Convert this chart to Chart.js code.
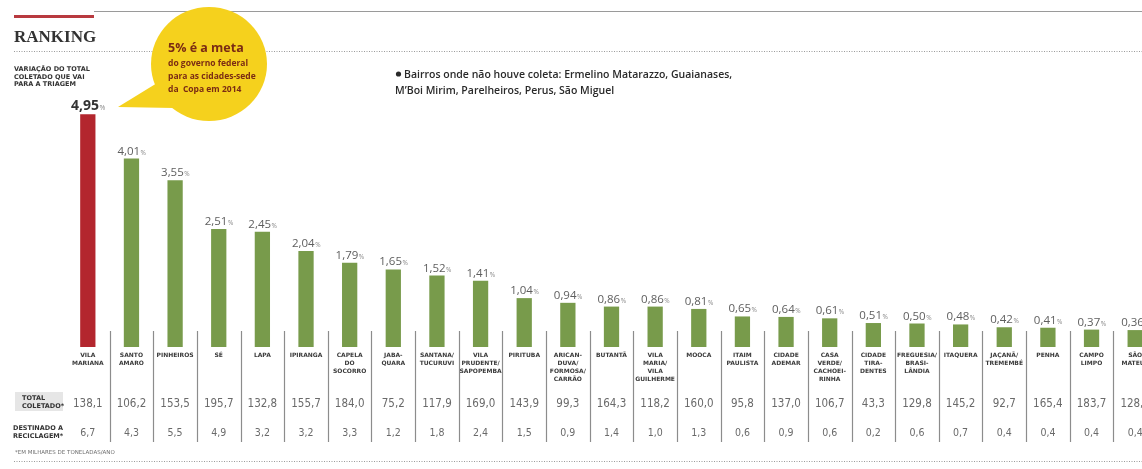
<!DOCTYPE html>
<html lang="pt-BR">
<head>
<meta charset="utf-8">
<title>Ranking - reciclagem</title>
<script src="https://cdn.jsdelivr.net/npm/chart.js@4/dist/chart.umd.min.js"></script>
<style>
  html, body { margin: 0; padding: 0; background: #fff; overflow: hidden; }
  #wrap { position: absolute; left: 0; top: 0; width: 1157px; height: 469px; }
</style>
</head>
<body>
<div id="wrap"><canvas id="chart"></canvas></div>
<script>
// Ranking of São Paulo districts: share of collected waste sent to sorting.

const districts = [
  ['VILA', 'MARIANA'], ['SANTO', 'AMARO'], ['PINHEIROS'], ['SÉ'], ['LAPA'], ['IPIRANGA'],
  ['CAPELA', 'DO', 'SOCORRO'], ['JABA-', 'QUARA'], ['SANTANA/', 'TUCURUVI'],
  ['VILA', 'PRUDENTE/', 'SAPOPEMBA'], ['PIRITUBA'], ['ARICAN-', 'DUVA/', 'FORMOSA/', 'CARRÃO'],
  ['BUTANTÃ'], ['VILA', 'MARIA/', 'VILA', 'GUILHERME'], ['MOOCA'], ['ITAIM', 'PAULISTA'],
  ['CIDADE', 'ADEMAR'], ['CASA', 'VERDE/', 'CACHOEI-', 'RINHA'], ['CIDADE', 'TIRA-', 'DENTES'],
  ['FREGUESIA/', 'BRASI-', 'LÂNDIA'], ['ITAQUERA'], ['JAÇANÃ/', 'TREMEMBÉ'], ['PENHA'],
  ['CAMPO', 'LIMPO'], ['SÃO', 'MATEUS'],
];

const triagemPct = [
  4.95, 4.01, 3.55, 2.51, 2.45, 2.04, 1.79, 1.65, 1.52, 1.41, 1.04, 0.94, 0.86,
  0.86, 0.81, 0.65, 0.64, 0.61, 0.51, 0.50, 0.48, 0.42, 0.41, 0.37, 0.36,
];

// thousands of tonnes / year
const totalColetado = [
  138.1, 106.2, 153.5, 195.7, 132.8, 155.7, 184.0, 75.2, 117.9, 169.0, 143.9, 99.3, 164.3,
  118.2, 160.0, 95.8, 137.0, 106.7, 43.3, 129.8, 145.2, 92.7, 165.4, 183.7, 128.6,
];

const destinadoReciclagem = [
  6.7, 4.3, 5.5, 4.9, 3.2, 3.2, 3.3, 1.2, 1.8, 2.4, 1.5, 0.9, 1.4,
  1.0, 1.3, 0.6, 0.9, 0.6, 0.2, 0.6, 0.7, 0.4, 0.4, 0.4, 0.4,
];

const yTicks = [0, 5];

const RED = '#b3262e';
const GREEN = '#789b4b';
const TEXT_DARK = '#333333';
const TEXT_GRAY = '#6e6e6e';
const BUBBLE = '#f5d11d';
const BUBBLE_TEXT = '#7a2b14';

function ptBr(v, digits) {
  return v.toFixed(digits).replace('.', ',');
}

function dotted(ctx, x1, x2, y) {
  ctx.save();
  ctx.strokeStyle = '#9a9a9a';
  ctx.lineWidth = 1;
  ctx.setLineDash([1, 1.5]);
  ctx.beginPath();
  ctx.moveTo(x1, y + 0.5);
  ctx.lineTo(x2, y + 0.5);
  ctx.stroke();
  ctx.restore();
}

// header, bubble, notes, footer
const decorPlugin = {
  id: 'decor',
  beforeDraw(chart) {
    const ctx = chart.ctx;
    ctx.save();
    ctx.fillStyle = '#fff';
    ctx.fillRect(0, 0, chart.width, chart.height);

    ctx.fillStyle = '#9a9a9a';
    ctx.fillRect(94, 11, 1142 - 94, 1);
    ctx.fillStyle = '#b83a3f';
    ctx.fillRect(14, 15, 80, 3);

    ctx.fillStyle = TEXT_DARK;
    ctx.font = 'bold 17px "Liberation Serif", "DejaVu Serif", serif';
    ctx.textBaseline = 'alphabetic';
    ctx.fillText('RANKING', 14, 42);

    dotted(ctx, 14, 1142, 51);
    dotted(ctx, 14, 1142, 461);

    ctx.font = 'bold 6.5px "DejaVu Sans", sans-serif';
    ['VARIAÇÃO DO TOTAL', 'COLETADO QUE VAI', 'PARA A TRIAGEM'].forEach((t, i) => {
      ctx.fillText(t, 14, 71 + i * 7.5);
    });

    ctx.font = '600 10.5px "Open Sans", sans-serif';
    ctx.fillStyle = '#2a2a2a';
    ctx.beginPath();
    ctx.arc(398.5, 74, 2.6, 0, Math.PI * 2);
    ctx.fill();
    ctx.fillText('Bairros onde não houve coleta: Ermelino Matarazzo, Guaianases,', 404, 78);
    ctx.fillText('M’Boi Mirim, Parelheiros, Perus, São Miguel', 395, 94);

    // left row labels of the table
    ctx.fillStyle = '#e6e6e6';
    ctx.fillRect(15, 392, 48, 19);
    ctx.fillStyle = TEXT_DARK;
    ctx.font = 'bold 6.5px "DejaVu Sans", sans-serif';
    ctx.fillText('TOTAL', 22, 400);
    ctx.fillText('COLETADO*', 22, 408);
    ctx.fillText('DESTINADO A', 13, 430);
    ctx.fillText('RECICLAGEM*', 13, 438);

    ctx.fillStyle = TEXT_GRAY;
    ctx.font = '5.5px "DejaVu Sans", sans-serif';
    ctx.fillText('*EM MILHARES DE TONELADAS/ANO', 15, 454);
    ctx.restore();
  },
  afterDraw(chart) {
    const ctx = chart.ctx;
    ctx.save();
    // speech bubble pointing to the first bar's label
    ctx.fillStyle = BUBBLE;
    ctx.beginPath();
    ctx.ellipse(209, 64, 58, 57, 0, 0, Math.PI * 2);
    ctx.fill();
    ctx.beginPath();
    ctx.moveTo(118, 107);
    ctx.lineTo(162, 80);
    ctx.lineTo(174, 108);
    ctx.closePath();
    ctx.fill();

    ctx.fillStyle = BUBBLE_TEXT;
    ctx.font = 'bold 12.5px "Open Sans", sans-serif';
    ctx.fillText('5% é a meta', 168, 52);
    ctx.font = 'bold 8.5px "Open Sans", sans-serif';
    ctx.fillText('do governo federal', 168, 66);
    ctx.fillText('para as cidades-sede', 168, 79);
    ctx.fillText('da  Copa em 2014', 168, 92);
    ctx.restore();
  },
};

// value labels, separators and the two data rows under the bars
const tablePlugin = {
  id: 'table',
  afterDatasetsDraw(chart) {
    const ctx = chart.ctx;
    const xs = chart.scales.x;
    const meta = chart.getDatasetMeta(0);
    const step = xs.getPixelForValue(1) - xs.getPixelForValue(0);
    ctx.save();

    ctx.strokeStyle = '#8c8c8c';
    ctx.lineWidth = 1.2;
    for (let i = 1; i < districts.length; i++) {
      const x = Math.round(xs.getPixelForValue(i) - step / 2) + 0.5;
      ctx.beginPath();
      ctx.moveTo(x, 331);
      ctx.lineTo(x, 442);
      ctx.stroke();
    }

    ctx.textBaseline = 'alphabetic';
    meta.data.forEach((bar, i) => {
      const num = ptBr(triagemPct[i], 2);
      const first = i === 0;
      const numFont = first ? 'bold 14px "Open Sans", sans-serif' : '11.5px "Open Sans", sans-serif';
      const pctFont = first ? '7px "Open Sans", sans-serif' : '6.5px "Open Sans", sans-serif';
      ctx.font = numFont;
      const wNum = ctx.measureText(num).width;
      ctx.font = pctFont;
      const wPct = ctx.measureText('%').width;
      const x0 = bar.x - (wNum + wPct) / 2;
      const y = bar.y - 4;
      ctx.fillStyle = first ? TEXT_DARK : '#5e5e5e';
      ctx.font = numFont;
      ctx.textAlign = 'left';
      ctx.fillText(num, x0, y);
      ctx.font = pctFont;
      ctx.fillStyle = '#888';
      ctx.fillText('%', x0 + wNum + 0.5, y);

      ctx.textAlign = 'center';
      ctx.fillStyle = '#6a6a6a';
      ctx.font = '11.5px "Liberation Sans Narrow", "DejaVu Sans Condensed", sans-serif';
      ctx.fillText(ptBr(totalColetado[i], 1), bar.x, 407);
      ctx.font = '10.5px "Liberation Sans Narrow", "DejaVu Sans Condensed", sans-serif';
      ctx.fillText(ptBr(destinadoReciclagem[i], 1), bar.x, 436);
    });
    ctx.restore();
  },
};

new Chart(document.getElementById('chart'), {
  type: 'bar',
  data: {
    labels: districts,
    datasets: [{
      data: triagemPct,
      backgroundColor: triagemPct.map((_, i) => (i === 0 ? RED : GREEN)),
      borderWidth: 0,
      categoryPercentage: 1,
      barPercentage: 0.35,
    }],
  },
  options: {
    responsive: true,
    maintainAspectRatio: false,
    animation: false,
    events: [],
    layout: { padding: { top: 112, left: 66, right: 0, bottom: 0 } },
    plugins: { legend: { display: false }, tooltip: { enabled: false } },
    scales: {
      x: {
        afterFit: (scale) => { scale.height = 122; },
        grid: { display: false, drawTicks: false },
        border: { display: false },
        ticks: {
          autoSkip: false,
          maxRotation: 0,
          minRotation: 0,
          padding: 5,
          color: '#3a3a3a',
          font: { family: '"DejaVu Sans", sans-serif', size: 6, weight: 'bold', lineHeight: 1.3 },
        },
      },
      y: {
        display: false,
        min: yTicks[0],
        max: yTicks[yTicks.length - 1],
      },
    },
  },
  plugins: [decorPlugin, tablePlugin],
});
</script>
</body>
</html>
